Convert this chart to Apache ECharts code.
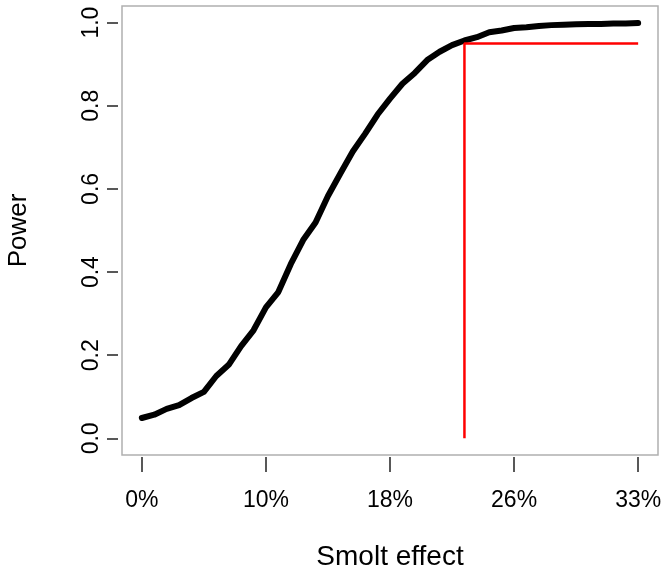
<!DOCTYPE html>
<html>
<head>
<meta charset="utf-8">
<script src="https://cdn.jsdelivr.net/npm/echarts@6/dist/echarts.min.js"></script>
<style>html,body{margin:0;padding:0;background:#fff;}#c{width:667px;height:576px;}</style>
</head>
<body>
<div id="c"></div>
<script>
// Effect index (0..40) and estimated power
var effectIndex = [0,1,2,3,4,5,6,7,8,9,10,11,12,13,14,15,16,17,18,19,20,21,22,23,24,25,26,27,28,29,30,31,32,33,34,35,36,37,38,39,40];
var power = [0.049,0.057,0.071,0.080,0.097,0.112,0.150,0.177,0.222,0.260,0.315,0.352,0.419,0.477,0.519,0.583,0.637,0.690,0.733,0.779,0.817,0.853,0.879,0.910,0.930,0.946,0.957,0.965,0.977,0.981,0.987,0.989,0.992,0.994,0.995,0.996,0.997,0.997,0.998,0.998,0.999];
// Tick positions and labels
var xTickPos = [0,10,20,30,40];
var xTickLabels = ['0%','10%','18%','26%','33%'];
var yTickPos = [0,0.2,0.4,0.6,0.8,1.0];
// Target power threshold line
var thresholdX = [26,26,40];
var thresholdY = [0,0.95,0.95];

var font = 'Liberation Sans, Arial, Helvetica, sans-serif';
var chart = echarts.init(document.getElementById('c'), null, {renderer:'canvas'});
chart.setOption({
  animation:false,
  backgroundColor:'#ffffff',
  grid:{left:122,right:9,top:6,bottom:121,containLabel:false,outerBoundsMode:'none',
        show:true,borderColor:'#b0b0b0',borderWidth:1.5,backgroundColor:'transparent'},
  xAxis:{
    type:'value',min:-1.6,max:41.6,offset:2,
    axisLine:{show:false,onZero:false},
    splitLine:{show:false},
    axisTick:{show:true,inside:false,length:15,customValues:xTickPos,lineStyle:{color:'#222',width:1.5}},
    axisLabel:{customValues:xTickPos,margin:32,fontSize:23,fontFamily:font,color:'#000',
      formatter:function(v){var i=xTickPos.indexOf(v);return i>=0?xTickLabels[i]:'';}},
    name:'Smolt effect',nameLocation:'middle',nameGap:86,
    nameTextStyle:{fontSize:28,fontFamily:font,color:'#000'}
  },
  yAxis:{
    type:'value',min:-0.04,max:1.04,offset:4,
    axisLine:{show:false,onZero:false},
    splitLine:{show:false},
    axisTick:{show:true,inside:false,length:11,customValues:yTickPos,lineStyle:{color:'#222',width:1.5}},
    axisLabel:{customValues:yTickPos,rotate:90,margin:15,fontSize:23,fontFamily:font,color:'#000',
      formatter:function(v){return v.toFixed(1);}},
    name:'Power',nameLocation:'middle',nameGap:86,nameRotate:90,
    nameTextStyle:{fontSize:26,fontFamily:font,color:'#000'}
  },
  series:[
    {type:'line',data:effectIndex.map(function(x,i){return [x,power[i]];}),
     showSymbol:false,symbol:'none',smooth:false,
     lineStyle:{color:'#000',width:6,cap:'round',join:'round'}},
    {type:'line',data:thresholdX.map(function(x,i){return [x,thresholdY[i]];}),
     showSymbol:false,symbol:'none',
     lineStyle:{color:'#ff0000',width:2.5}}
  ]
});
</script>
</body>
</html>
